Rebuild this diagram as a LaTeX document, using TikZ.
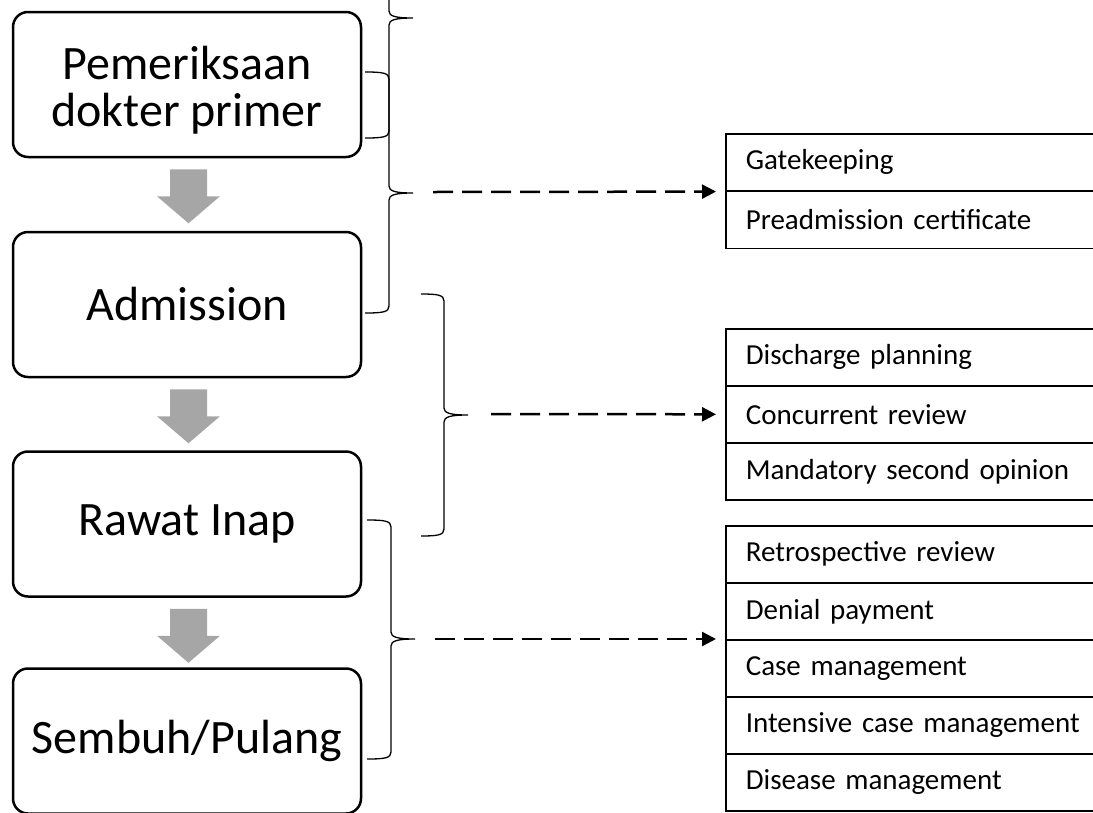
\documentclass[tikz,border=0pt]{standalone}
\usepackage{fontspec}
\newfontfamily\calib{Carlito}
\usetikzlibrary{arrows.meta,calc}
\newcommand{\mybrace}[6]{% xh xv xt y1 ym y2
  \draw[bracestyle] (#1,#4) .. controls (#2-6,#4) and (#2,#4+1) .. (#2,#4+7)
    -- (#2,#5-7) .. controls (#2,#5-2) and (#2+6,#5) .. (#3,#5)
    .. controls (#2+6,#5) and (#2,#5+2) .. (#2,#5+7)
    -- (#2,#6-7) .. controls (#2,#6-1) and (#2-6,#6) .. (#1,#6);}
\begin{document}
\begin{tikzpicture}[x=1pt,y=-1pt,
  stepbox/.style={draw, line width=2.5pt, rounded corners=15pt, minimum width=348pt,
    minimum height=145pt, align=center, inner sep=0pt,
    font=\calib\fontsize{48}{47}\selectfont},
  itembox/.style={draw, line width=1.6pt, anchor=north west, minimum height=57pt,
    text width=350pt, inner xsep=20pt, inner ysep=0pt, align=left,
    font=\calib\fontsize{29}{34}\selectfont},
  grayarrow/.style={fill=black!35, draw=none},
  bracestyle/.style={line width=1.3pt},
  dasharrow/.style={line width=2.5pt, dash pattern=on 20pt off 9pt,
    -{Triangle[length=14pt,width=14pt]}}]
\path[use as bounding box] (0,0) rectangle (1093,812);
\clip (0,0) rectangle (1093,812);
% left process boxes
\node[stepbox] (b1) at (187,84.5) {\rule{0pt}{44pt}Pemeriksaan\\dokter primer};
\node[stepbox] (b2) at (187,304.5) {Admission};
\node[stepbox] (b3) at (187,524) {Rawat Inap};
\node[stepbox] (b4) at (187,741) {Sembuh/Pulang};
% gray block arrows
\foreach \a in {b1,b2,b3}{
  \fill[grayarrow] ($(\a.south)+(-17,11)$) -- ($(\a.south)+(20,11)$) -- ($(\a.south)+(20,38)$)
    -- ($(\a.south)+(33,38)$) -- ($(\a.south)+(1.5,65)$) -- ($(\a.south)+(-30,38)$)
    -- ($(\a.south)+(-17,38)$) -- cycle;
}
% right item boxes
\node[itembox] (gk) at (725,133) {\raisebox{-2pt}{Gatekeeping}};
\node[itembox] (pc) at (725,190.5) {\raisebox{-2pt}{Preadmission certificate}};
\node[itembox] (dp) at (725,328) {\raisebox{-2pt}{Discharge planning}};
\node[itembox] (cr) at (725,385) {\raisebox{-2pt}{Concurrent review}};
\node[itembox] (ms) at (725,442) {\raisebox{-2pt}{Mandatory second opinion}};
\node[itembox] (rr) at (725,525) {\raisebox{-2pt}{Retrospective review}};
\node[itembox] (dn) at (725,582) {\raisebox{-2pt}{Denial payment}};
\node[itembox] (cm) at (725,639) {\raisebox{-2pt}{Case management}};
\node[itembox] (ic) at (725,696) {\raisebox{-2pt}{Intensive case management}};
\node[itembox] (dm) at (725,753) {\raisebox{-2pt}{Disease management}};
% braces
\mybrace{365}{389}{413}{-102}{18}{138}
\mybrace{365}{389}{413}{72}{193}{313}
\mybrace{421}{444}{468}{294}{415}{536}
\mybrace{367}{391}{415}{520}{639}{759}
\coordinate (s1) at (433,192);
\coordinate (s2) at (491,414);
\coordinate (s3) at (435,639);
% dashed arrows
\draw[dasharrow] (s1) -- ($(gk.south west)+(-9,0)$);
\draw[dasharrow] (s2) -- ($(cr.west)+(-9,0)$);
\draw[dasharrow] (s3) -- ($(cm.north west)+(-9,0)$);
\end{tikzpicture}
\end{document}
